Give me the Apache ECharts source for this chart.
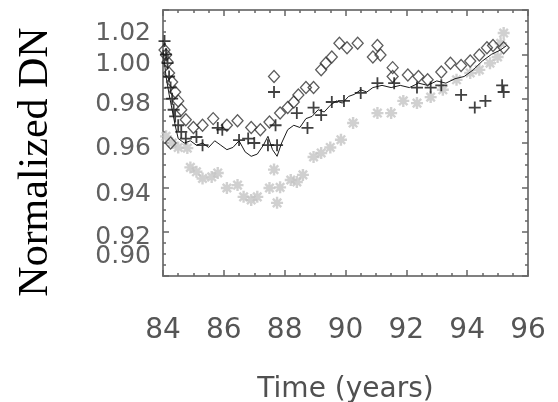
<!DOCTYPE html>
<html><head><meta charset="utf-8">
<script src="https://cdn.jsdelivr.net/npm/echarts@6/dist/echarts.min.js"></script>
<style>html,body{margin:0;padding:0;background:#fff}#c{width:558px;height:402px}</style>
</head><body><div id="c"></div>
<script>
// ---- data ----
var xTickLabels = ['84','86','88','90','92','94','96'];
var yTickLabels = ['0.90','0.92','0.94','0.96','0.98','1.00','1.02'];

var diamondX = [84.05,84.1,84.15,84.2,84.3,84.4,84.5,84.6,84.75,84.25,85.0,85.3,85.65,86.1,86.45,86.9,87.2,87.5,87.65,87.85,88.1,88.3,88.45,88.7,88.95,89.2,89.35,89.55,89.8,90.05,90.4,90.9,91.05,91.15,91.55,91.55,92.05,92.4,92.7,93.15,93.45,93.8,94.1,94.4,94.65,94.85,95.2];
var diamondY = [1.002,0.9997,0.9965,0.9916,0.9875,0.983,0.979,0.975,0.9705,0.960,0.967,0.968,0.971,0.968,0.970,0.967,0.966,0.9695,0.990,0.9735,0.976,0.9785,0.9817,0.985,0.985,0.993,0.996,0.9988,1.005,1.003,1.005,0.9988,1.004,0.9997,0.994,0.990,0.9907,0.990,0.9885,0.992,0.996,0.995,0.997,0.9997,1.003,1.004,1.003];

var plusX = [84.05,84.1,84.15,84.2,84.25,84.3,84.35,84.4,84.5,84.6,84.75,85.1,85.3,85.8,85.95,86.5,86.8,87.0,87.45,87.65,87.7,87.75,88.4,88.75,88.95,89.2,89.55,89.95,90.5,91.05,91.6,92.35,92.8,93.15,93.8,94.25,94.6,95.15,95.2];
var plusY = [1.006,1.0,0.996,0.99,0.985,0.98,0.975,0.972,0.968,0.965,0.962,0.9627,0.959,0.9668,0.966,0.9613,0.962,0.960,0.959,0.983,0.968,0.959,0.9735,0.9668,0.976,0.9726,0.9785,0.979,0.9826,0.987,0.987,0.985,0.985,0.986,0.9817,0.976,0.979,0.986,0.983];

var lineX = [84.0,84.1,84.2,84.3,84.4,84.5,84.7,84.9,85.1,85.3,85.5,85.7,85.9,86.1,86.3,86.5,86.7,86.9,87.1,87.3,87.45,87.6,87.75,87.9,88.1,88.3,88.5,88.7,88.9,89.1,89.3,89.5,89.7,89.9,90.1,90.3,90.5,90.7,90.9,91.2,91.5,91.8,92.1,92.4,92.7,93.0,93.3,93.6,93.9,94.2,94.5,94.8,95.1,95.3];
var lineY = [1.002,0.99,0.982,0.975,0.968,0.962,0.960,0.961,0.959,0.960,0.958,0.961,0.959,0.957,0.958,0.961,0.956,0.954,0.955,0.959,0.963,0.957,0.954,0.960,0.966,0.968,0.967,0.971,0.972,0.975,0.974,0.977,0.979,0.978,0.981,0.982,0.984,0.983,0.985,0.986,0.985,0.986,0.985,0.987,0.986,0.988,0.987,0.989,0.990,0.993,0.997,1.000,1.002,1.004];

var starX = [84.1,84.3,84.5,84.8,84.9,85.1,85.3,85.6,85.8,86.1,86.45,86.65,86.9,87.1,87.5,87.65,87.75,87.85,88.2,88.4,88.6,88.95,89.2,89.5,89.85,90.25,91.05,91.5,91.9,92.35,92.8,93.2,93.65,94.1,94.4,94.75,95.0,95.1,95.2];
var starY = [0.963,0.960,0.958,0.9577,0.949,0.947,0.944,0.9447,0.9465,0.9397,0.941,0.9357,0.9343,0.9357,0.9397,0.948,0.933,0.940,0.9433,0.9424,0.9456,0.9537,0.9555,0.958,0.9615,0.969,0.9735,0.9735,0.979,0.978,0.9807,0.984,0.9885,0.9916,0.993,0.996,0.9988,1.005,1.0096];

// label vertical offsets (px) to mimic reference placement
var yLabelShift = {'0.90':-20,'0.92':6,'0.94':7,'0.96':5,'0.98':6,'1.00':10,'1.02':23};

function zip(a,b){return a.map(function(v,i){return [v,b[i]];});}

var frame = '#808080';
var rich = {};
yTickLabels.forEach(function(t,i){
  var s = yLabelShift[t];
  rich['r'+i] = {fontFamily:'DejaVu Sans',fontSize:25,color:'#606060',
    padding: s>=0 ? [2*s,0,0,0] : [0,0,-2*s,0]};
});
// labels split over two overlaid left axes so that close labels never collide
function yFormatter(parity){
  return function(v){
    var s=v.toFixed(2);var i=yTickLabels.indexOf(s);
    return (i>=0 && i%2===parity)?'{r'+i+'|'+s+'}':'';
  };
}

var chart = echarts.init(document.getElementById('c'));
var tickStyle = {show:true,inside:true,length:6,lineStyle:{color:'#666',width:1.5}};
var minorStyle = {show:true,splitNumber:4,length:3,lineStyle:{color:'#666',width:1.5}};
var axisBase = {
  type:'value', min:84, max:96, interval:2,
  axisLine:{show:true,lineStyle:{color:frame,width:2}},
  axisTick:tickStyle, minorTick:minorStyle, splitLine:{show:false}
};
function yBase(){
  return {type:'value',min:0.90,max:1.02,interval:0.02,
    axisLine:{show:true,lineStyle:{color:frame,width:2}},
    axisTick:tickStyle, minorTick:minorStyle, splitLine:{show:false}};
}
chart.setOption({
  animation:false,
  backgroundColor:'#fff',
  grid:{left:163,right:30,top:10,bottom:126,containLabel:false,outerBoundsMode:'none'},
  xAxis:[
    Object.assign({}, axisBase, {position:'bottom',
      name:'Time (years)', nameLocation:'middle', nameGap:100,
      nameTextStyle:{fontFamily:'DejaVu Sans',fontSize:28,color:'#505050'},
      axisLabel:{show:true,margin:41,fontFamily:'DejaVu Sans',fontSize:28,color:'#555',
        showMinLabel:true,showMaxLabel:true,hideOverlap:false,
        formatter:function(v){var s=String(Math.round(v));return xTickLabels.indexOf(s)>=0?s:'';}}}),
    Object.assign({}, axisBase, {position:'top',axisLabel:{show:false}})
  ],
  yAxis:[
    Object.assign(yBase(), {position:'left',
      name:'Normalized DN', nameLocation:'middle', nameGap:106, nameRotate:90,
      nameTextStyle:{fontFamily:'Liberation Serif',fontSize:42,color:'#000',padding:[0,38,0,0]},
      axisLabel:{show:true,margin:12,rich:rich,showMinLabel:true,showMaxLabel:true,hideOverlap:false,
        formatter:yFormatter(0)}}),
    Object.assign(yBase(), {position:'right',axisLabel:{show:false}}),
    Object.assign(yBase(), {position:'left',offset:0,
      axisLine:{show:false},axisTick:{show:false},minorTick:{show:false},
      axisLabel:{show:true,margin:12,rich:rich,showMinLabel:true,showMaxLabel:true,hideOverlap:false,
        formatter:yFormatter(1)}})
  ],
  series:[
    {type:'scatter',name:'stars',data:zip(starX,starY),
      symbol:'path://M0,5H10M5,0V10M1.5,1.5L8.5,8.5M8.5,1.5L1.5,8.5',symbolSize:12,
      itemStyle:{color:'none',borderColor:'#c4c4c4',borderWidth:2.4},z:2},
    {type:'line',name:'line',data:zip(lineX,lineY),showSymbol:false,
      lineStyle:{color:'#1a1a1a',width:1},z:3},
    {type:'scatter',name:'diamonds',data:zip(diamondX,diamondY),
      symbol:'diamond',symbolSize:[11,12],
      itemStyle:{color:'rgba(255,255,255,0)',borderColor:'#333',borderWidth:1.3},z:4},
    {type:'scatter',name:'plus',data:zip(plusX,plusY),
      symbol:'path://M0,5H10M5,0V10',symbolSize:12,
      itemStyle:{color:'none',borderColor:'#111',borderWidth:1.8},z:5}
  ]
});
</script></body></html>
